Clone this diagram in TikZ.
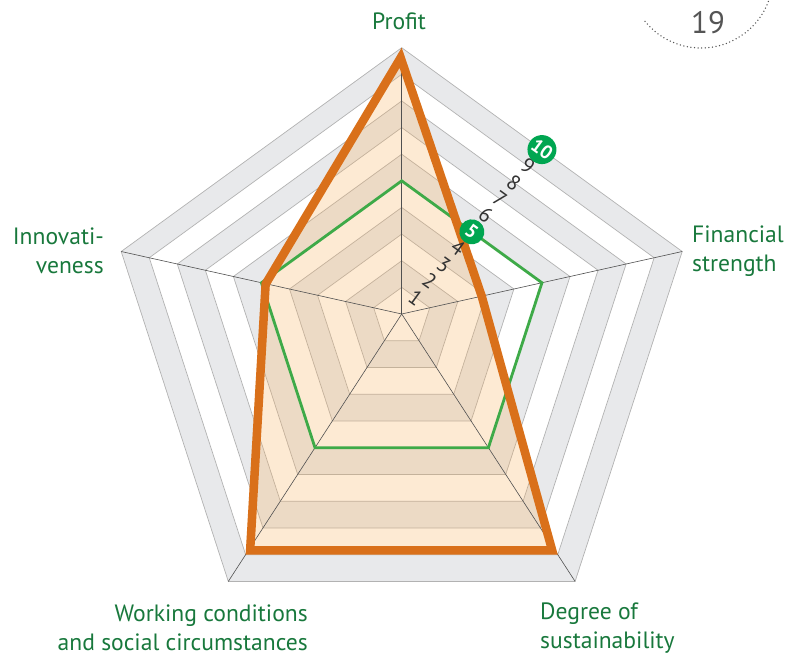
\documentclass[tikz,border=0pt]{standalone}
\usepackage{fontspec}
\setmainfont{PT Sans}
\usetikzlibrary{calc}

\definecolor{bandgrey}{RGB}{232,233,235}
\definecolor{ringline}{RGB}{178,178,178}
\definecolor{spokeline}{RGB}{80,80,80}
\definecolor{chartorange}{RGB}{217,112,26}
\definecolor{orangefill}{RGB}{248,178,96}
\definecolor{chartgreen}{RGB}{62,170,72}
\definecolor{badgegreen}{RGB}{0,166,81}
\definecolor{labelgreen}{RGB}{24,120,60}
\definecolor{pagegrey}{RGB}{85,85,85}

\tikzset{
  axislabel/.style={text=labelgreen, inner sep=0pt, font=\fontsize{23.6}{28.5}\selectfont},
  ticklabel/.style={text=black!80, inner sep=0pt, rotate=-36, font=\fontsize{21}{21}\selectfont},
  badge/.style={circle, fill=badgegreen, text=white, inner sep=0pt, rotate=-36, font=\bfseries\fontsize{19}{19}\selectfont},
}

\begin{document}
\begin{tikzpicture}[x=1pt,y=-1pt]

		\useasboundingbox (0,0) rectangle (787,659);

		% origin and the five axes at value 10
		\coordinate (O) at (401.7,314);
		\coordinate (P) at (401.7,47.7);
		\coordinate (F) at (682.2,251.5);
		\coordinate (S) at (575.1,581.4);
		\coordinate (W) at (228.3,581.4);
		\coordinate (I) at (121.2,251.5);
		\coordinate (PF) at ($(P)!0.5!(F)$);

		% bands
		\foreach \k/\c in {10/bandgrey,9/white,8/bandgrey,7/white,6/bandgrey,5/white,4/bandgrey,3/white,2/bandgrey,1/white}
			\fill[\c] ($(O)!\k/10!(P)$) -- ($(O)!\k/10!(F)$) -- ($(O)!\k/10!(S)$) -- ($(O)!\k/10!(W)$) -- ($(O)!\k/10!(I)$) -- cycle;

		\foreach \k in {1,...,10}
			\draw[ringline, line width=0.7] ($(O)!\k/10!(P)$) -- ($(O)!\k/10!(F)$) -- ($(O)!\k/10!(S)$) -- ($(O)!\k/10!(W)$) -- ($(O)!\k/10!(I)$) -- cycle;

		% values
		\coordinate (dP) at ($(O)!1!(P)$);
		\coordinate (dF) at ($(O)!0.3!(F)$);
		\coordinate (dS) at ($(O)!0.9!(S)$);
		\coordinate (dW) at ($(O)!0.9!(W)$);
		\coordinate (dI) at ($(O)!0.5!(I)$);

		\fill[orangefill, opacity=0.27] (dP) -- (dF) -- (dS) -- (dW) -- (dI) -- cycle;

		\foreach \a in {P,F,S,W,I}
			\draw[spokeline, line width=0.6] (O) -- (\a);

		\draw[chartgreen, line width=2.8] ($(O)!0.5!(P)$) -- ($(O)!0.5!(F)$) -- ($(O)!0.5!(S)$) -- ($(O)!0.5!(W)$) -- ($(O)!0.5!(I)$) -- cycle;

		\begin{scope}
			\clip (dP) -- (dF) -- (dS) -- (dW) -- (dI) -- cycle;
			\draw[chartorange, line width=17] (dP) -- (dF) -- (dS) -- (dW) -- (dI) -- cycle;
		\end{scope}

		% scale
		\foreach \k in {1,2,3,4,6,7,8,9}
			\node[ticklabel] (t\k) at ($(O)!\k/10!(PF)$) {\k};
		\node[badge, minimum size=25] (t5) at ($(O)!0.5!(PF)$) {5};
		\node[badge, minimum size=29] (t10) at ($(O)!1!(PF)$) {10};

		% axis names
		\node[axislabel] (profit) at (399,21) {Profit};
		\node[axislabel, align=right, anchor=east] (innov) at (104,251) {Innovati-\\veness};
		\node[axislabel, align=left, anchor=west] (fin) at (692,251) {Financial\\strength};
		\node[axislabel, align=right, anchor=east] (work) at (308,628) {Working conditions\\and social circumstances};
		\node[axislabel, align=left, anchor=west] (degree) at (540,628) {Degree of\\sustainability};

		% page number
		\node[text=pagegrey, font=\fontsize{31}{31}\selectfont] (page) at (708,23) {19};
		\draw[pagegrey, line width=1.5, line cap=round, dash pattern=on 0pt off 3.6pt] (701,-24) ++(141:72) arc[start angle=141, end angle=12, radius=72];

	\end{tikzpicture}
\end{document}
